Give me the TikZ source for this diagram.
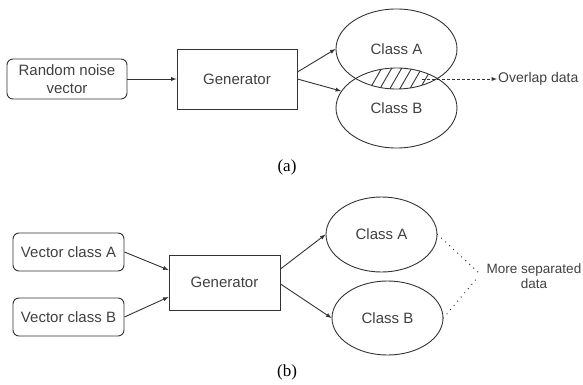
\documentclass[tikz,border=0pt]{standalone}
\usepackage{fontspec}
\setmainfont{Liberation Serif}
\setsansfont{Liberation Sans}
\usetikzlibrary{arrows}
\usetikzlibrary{shapes.geometric}
\tikzset{
every node/.style={ % Sets the text of every node
text=black!75,
font=\sffamily\fontsize{15}{17}\selectfont},
inbox/.style={ % Rounded boxes for the inputs
draw=black!80,
line width=0.9pt,
rounded corners=6pt,
align=center,
inner sep=0pt,
font=\sffamily\fontsize{15}{18}\selectfont},
genbox/.style={ % Generator box
draw=black!80,
line width=0.9pt,
inner sep=0pt},
classell/.style={ % Output classes
ellipse,
draw=black!80,
line width=0.9pt,
inner sep=0pt},
caption/.style={ % (a), (b)
text=black,
font=\rmfamily\fontsize{17}{20}\selectfont},
link/.style={ % Solid arrows
draw=black!80,
line width=0.9pt,
-latex},
dashlink/.style={
draw=black!80,
line width=0.9pt,
dash pattern=on 3pt off 2pt,
-latex},
dotlink/.style={
draw=black!80,
line width=1.4pt,
line cap=round,
dash pattern=on 0pt off 5.5pt},
hatch/.style={
draw=black!80,
line width=0.9pt}}

\begin{document}
\begin{tikzpicture}[x=1pt, y=-1pt]
\useasboundingbox (0,0) rectangle (583,385);
% (a) one noise vector
\node[inbox, minimum width=120pt, minimum height=40pt] (noise) at (67,79) {Random noise\\vector};
\node[genbox, minimum width=120pt, minimum height=60pt] (genA) at (237,79) {Generator};
\node[classell, minimum width=121pt, minimum height=80pt] (clsA) at (396.5,49) {Class A};
\node[classell, minimum width=121pt, minimum height=80pt] (clsB) at (396.5,108) {Class B};
\begin{scope}
\clip (clsA.center) ellipse (60.5 and 40);
\clip (clsB.center) ellipse (60.5 and 40);
\foreach \i in {0,...,5}
	\draw[hatch] (368+10*\i,92) -- (383+10*\i,66);
\end{scope}
\coordinate (lensR) at (422,79);
\node[anchor=west, inner sep=1pt, font=\sffamily\fontsize{14}{16}\selectfont] (overlap) at (497,79) {Overlap data};
\draw[link] (noise.east) -- (genA.west);
\draw[link] ([yshift=7pt]genA.east) -- (clsA.west);
\draw[link] (genA.east) -- (clsB.163);
\draw[dashlink] (lensR) -- (overlap.west);
\node[caption] (capA) at (287,167) {(a)};

% (b) one vector per class
\node[inbox, minimum width=111pt, minimum height=38pt] (vecA) at (68.5,252) {Vector class A};
\node[inbox, minimum width=111pt, minimum height=38pt] (vecB) at (68.5,317) {Vector class B};
\node[genbox, minimum width=111pt, minimum height=55pt] (genB) at (224.5,282.5) {Generator};
\node[classell, minimum width=111pt, minimum height=75pt] (sepA) at (381.5,234.5) {Class A};
\node[classell, minimum width=111pt, minimum height=74pt] (sepB) at (387.5,318) {Class B};
\node[align=center, font=\sffamily\fontsize{13.5}{15.5}\selectfont] (more) at (534,276) {More separated\\data};
\coordinate (joinA) at (478,272);
\coordinate (joinB) at (478,277);
\draw[link] (vecA.east) -- ([yshift=12.5pt]genB.west);
\draw[link] (vecB.east) -- ([yshift=-14.5pt]genB.west);
\draw[link] ([yshift=13.5pt]genB.east) -- (sepA.west);
\draw[link] ([yshift=-1.5pt]genB.east) -- (sepB.west);
\draw[dotlink] (sepA.east) -- (joinA);
\draw[dotlink] (sepB.east) -- (joinB);
\node[caption] (capB) at (287,372) {(b)};
\end{tikzpicture}
\end{document}
